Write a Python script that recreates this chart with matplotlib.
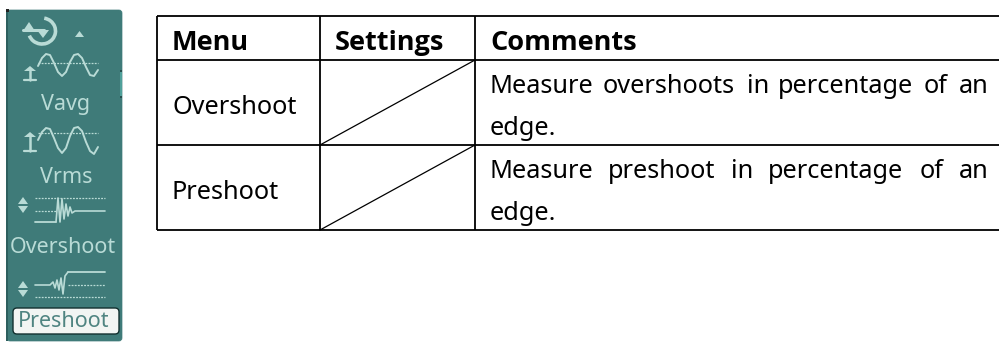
import matplotlib
matplotlib.use("Agg")
import matplotlib.pyplot as plt
from matplotlib.patches import FancyBboxPatch, Rectangle, Polygon, Arc

# ---- content ----
headers = ["Menu", "Settings", "Comments"]
menu_items = ["Overshoot", "Preshoot"]
comment_words_1 = ["Measure", "overshoots", "in", "percentage", "of", "an"]
comment_words_2 = ["Measure", "preshoot", "in", "percentage", "of", "an"]
comment_tail = "edge."
side_labels = ["Vavg", "Vrms", "Overshoot"]
side_selected = "Preshoot"

# ---- layout in reference pixels ----
W, H = 999, 344
col_x = [157, 320, 475, 999]
row_y = [16, 60, 145, 230]
word_x_1 = [490, 603, 747, 778, 924, 959]
word_x_2 = [490, 608, 731, 768, 920, 959]

TEAL = "#3f7b79"
PALE = "#b9dbd6"
FONT = "Noto Sans"
BOLD_FONT = "Open Sans"

fig = plt.figure(figsize=(W / 100, H / 100), dpi=100, facecolor="white")
ax = fig.add_axes([0, 0, 1, 1])
ax.set_xlim(0, W)
ax.set_ylim(H, 0)
ax.axis("off")

# ---- table ----
LW = 1.3
for y in row_y:
    ax.plot([col_x[0], col_x[-1]], [y, y], color="black", lw=LW, solid_capstyle="butt")
for x in col_x[:3]:
    ax.plot([x, x], [row_y[0], row_y[-1]], color="black", lw=LW, solid_capstyle="butt")
for top, bottom in zip(row_y[1:3], row_y[2:4]):
    ax.plot([col_x[1], col_x[2]], [bottom, top], color="black", lw=0.9)

def label(x, y, s, size=18, weight="normal", color="black", ha="left", family=FONT):
    ax.text(x, y, s, fontsize=size, fontweight=weight, color=color, ha=ha,
            va="baseline", family=family)

BODY = 18.2
HEAD = 19.5
label(172, 50, headers[0], HEAD, "bold", family=BOLD_FONT)
label(335, 50, headers[1], HEAD, "bold", family=BOLD_FONT)
label(490, 50, headers[2], HEAD, "bold", family=BOLD_FONT)
label(172, 114, menu_items[0], BODY)
label(172, 199, menu_items[1], BODY)
for x, w in zip(word_x_1, comment_words_1):
    label(x, 93, w, BODY)
label(490, 135, comment_tail, BODY)
for x, w in zip(word_x_2, comment_words_2):
    label(x, 178, w, BODY)
label(490, 220, comment_tail, BODY)

# ---- side panel ----
ax.add_patch(FancyBboxPatch((7, 10), 115, 331, boxstyle="round,pad=0,rounding_size=3",
                            fc=TEAL, ec=TEAL, lw=0.5))
ax.add_patch(Rectangle((6, 9), 3, 3, color="#222222", lw=0))
ax.add_patch(Rectangle((6, 12), 1.5, 329, color="#2d5f5e", lw=0))
ax.add_patch(Rectangle((120, 70), 2, 2, color="#27504f", lw=0))
ax.add_patch(Rectangle((120, 72), 2, 24, color="#4fa09a", lw=0))
ax.add_patch(Rectangle((120, 96), 2, 2, color="#27504f", lw=0))

def line(xs, ys, lw=1.2, ls="-", color=PALE):
    ax.plot(xs, ys, color=color, lw=lw, ls=ls, solid_capstyle="round")

# rotate icon
ax.add_patch(Arc((42, 31), 27, 26, theta1=-80, theta2=160, color=PALE, lw=2.6))
line([23, 44], [30, 30], 2.2)
ax.add_patch(Polygon([[23, 31], [35, 31], [29, 22]], color=PALE, lw=0))
ax.add_patch(Polygon([[37, 30], [49, 30], [43, 38]], color=PALE, lw=0))
ax.add_patch(Polygon([[75, 37], [84, 37], [79.5, 31]], color=PALE, lw=0))

# sine wave icons (hand-traced outlines)
wave_x = [38, 42, 46, 50, 54, 58, 62, 66, 70, 74, 78, 82, 86, 90, 94, 98]
wave_1 = [66, 58, 54, 55, 63, 72, 76, 72, 62, 55, 54, 58, 67, 75, 76, 70]
wave_2 = [140, 132, 128, 129, 138, 148, 153, 148, 136, 128, 127, 131, 142, 151, 154, 147]
line(wave_x, wave_1, 1.4)
line(wave_x, wave_2, 1.4)
line([38, 98], [63, 63], 0.9, (0, (1.5, 1)))
line([38, 98], [133, 133], 0.9, (0, (1.5, 1)))

def up_arrow(x, top, bottom):
    ax.add_patch(Polygon([[x - 6, top + 5], [x + 6, top + 5], [x, top]], color=PALE, lw=0))
    line([x, x], [top + 4, bottom], 1.8)
    line([x - 6, x + 6], [bottom, bottom], 1.6)

up_arrow(30, 66, 80)
up_arrow(30, 132, 151)

def double_arrow(x, top, bottom):
    mid = (top + bottom) / 2
    ax.add_patch(Polygon([[x - 5, mid - 1], [x + 5, mid - 1], [x, top]], color=PALE, lw=0))
    ax.add_patch(Polygon([[x - 5, mid + 1], [x + 5, mid + 1], [x, bottom]], color=PALE, lw=0))

# overshoot icon
double_arrow(23, 197, 213)
line([35, 105], [198, 198], 0.9, (0, (1.5, 1)))
line([35, 56], [211, 211], 0.9, (0, (1.5, 1)))
line([35, 56], [222, 222], 1.3)
ring_x_1 = [56, 58, 60, 62, 64, 66, 68, 70, 72, 75, 105]
ring_y_1 = [222, 198, 222, 199, 219, 204, 216, 207, 213, 211, 211]
line(ring_x_1, ring_y_1, 1.2)

# preshoot icon
double_arrow(23, 281, 297)
line([35, 105], [297, 297], 0.9, (0, (1.5, 1)))
line([68, 105], [285, 285], 0.9, (0, (1.5, 1)))
line([68, 105], [272, 272], 1.3)
ring_x_2 = [35, 50, 53, 55, 57, 59, 61, 63, 65, 68]
ring_y_2 = [285, 285, 282, 288, 280, 290, 278, 294, 276, 272]
line(ring_x_2, ring_y_2, 1.2)

# side labels
SIDE = 15.5
label(66, 110, side_labels[0], SIDE, color=PALE, ha="center")
label(66, 183, side_labels[1], SIDE, color=PALE, ha="center")
label(63, 253, side_labels[2], SIDE, color=PALE, ha="center")

# selected button
ax.add_patch(FancyBboxPatch((13, 308), 106, 26, boxstyle="round,pad=0,rounding_size=4",
                            fc="#f2f5f3", ec="#12302f", lw=1.0))
label(64, 327, side_selected, SIDE, color="#4f8481", ha="center")

fig.savefig("out.png", dpi=100, facecolor="white")
